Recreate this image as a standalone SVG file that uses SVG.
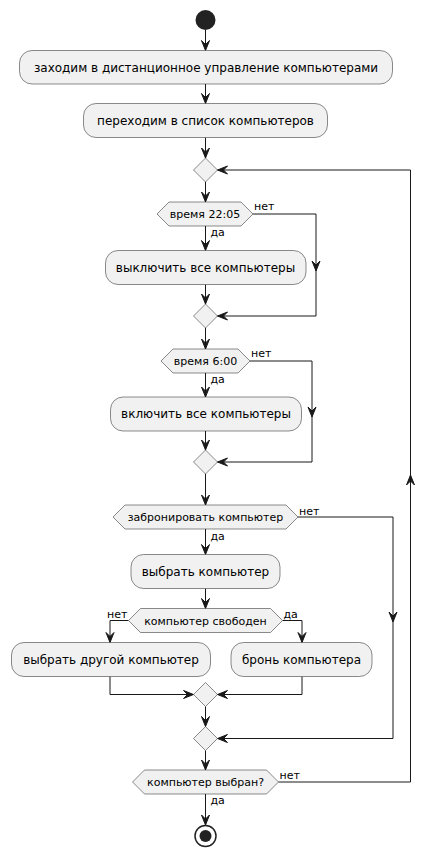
<svg xmlns="http://www.w3.org/2000/svg" xmlns:xlink="http://www.w3.org/1999/xlink" width="435" height="857" viewBox="0 0 435 857">
<style>
.box{fill:#F1F1F1;stroke:#181818;stroke-width:0.5}
.t{font-family:"DejaVu Sans",sans-serif;font-size:12px;fill:#000;text-anchor:middle}
.s{font-family:"DejaVu Sans",sans-serif;font-size:11px;fill:#000;text-anchor:middle}
.l{font-family:"DejaVu Sans",sans-serif;font-size:11px;fill:#000}
.c{fill:none;stroke:#181818;stroke-width:1}
.ah{fill:#181818;stroke:#181818;stroke-width:1}
</style>
<defs>
<path id="ah" class="ah" d="M-4,-10 L0,0 L4,-10 L0,-6 Z"/>
</defs>
<rect width="435" height="857" fill="#FFFFFF"/>
<g id="connectors">
<path class="c" d="M205.5,30 V50.5 M205.5,84 V103.5 M205.5,137.5 V158 M205.5,182 V202 M205.5,226 V250.5"/>
<path class="c" d="M253,214 H316 V316 H217.5"/>
<path class="c" d="M205.5,284.5 V304 M205.5,328 V349 M205.5,373 V397"/>
<path class="c" d="M250,361 H312 V462 H217.5"/>
<path class="c" d="M205.5,431 V450 M205.5,474 V505 M205.5,529 V554.5 M205.5,588.5 V608.5"/>
<path class="c" d="M298,517 H393 V738.5 H217.5"/>
<path class="c" d="M128.5,620.5 H110 V642.5 M282.5,620.5 H302 V642.5"/>
<path class="c" d="M110,676.5 V694.5 H193.5 M302,676.5 V694.5 H217.5"/>
<path class="c" d="M205.5,706.5 V726.5 M205.5,750.5 V770 M205.5,794 V825"/>
<path class="c" d="M278.5,782 H410.5 V170 H217.5"/>
<use xlink:href="#ah" transform="translate(205.5,50.5)"/>
<use xlink:href="#ah" transform="translate(205.5,103.5)"/>
<use xlink:href="#ah" transform="translate(205.5,158)"/>
<use xlink:href="#ah" transform="translate(205.5,202)"/>
<use xlink:href="#ah" transform="translate(205.5,250.5)"/>
<use xlink:href="#ah" transform="translate(316,271)"/>
<use xlink:href="#ah" transform="translate(217.5,316) rotate(90)"/>
<use xlink:href="#ah" transform="translate(205.5,304)"/>
<use xlink:href="#ah" transform="translate(205.5,349)"/>
<use xlink:href="#ah" transform="translate(205.5,397)"/>
<use xlink:href="#ah" transform="translate(312,417)"/>
<use xlink:href="#ah" transform="translate(217.5,462) rotate(90)"/>
<use xlink:href="#ah" transform="translate(205.5,450)"/>
<use xlink:href="#ah" transform="translate(205.5,505)"/>
<use xlink:href="#ah" transform="translate(205.5,554.5)"/>
<use xlink:href="#ah" transform="translate(205.5,608.5)"/>
<use xlink:href="#ah" transform="translate(393,622)"/>
<use xlink:href="#ah" transform="translate(217.5,738.5) rotate(90)"/>
<use xlink:href="#ah" transform="translate(110,642.5)"/>
<use xlink:href="#ah" transform="translate(302,642.5)"/>
<use xlink:href="#ah" transform="translate(193.5,694.5) rotate(-90)"/>
<use xlink:href="#ah" transform="translate(217.5,694.5) rotate(90)"/>
<use xlink:href="#ah" transform="translate(205.5,726.5)"/>
<use xlink:href="#ah" transform="translate(205.5,770)"/>
<use xlink:href="#ah" transform="translate(205.5,825)"/>
<use xlink:href="#ah" transform="translate(410.5,475) rotate(180)"/>
<use xlink:href="#ah" transform="translate(217.5,170) rotate(90)"/>
<text class="l" x="254" y="210">нет</text>
<text class="l" x="210.5" y="236">да</text>
<text class="l" x="251" y="357">нет</text>
<text class="l" x="210.5" y="383">да</text>
<text class="l" x="299" y="515">нет</text>
<text class="l" x="210.5" y="540">да</text>
<text class="l" x="107" y="618">нет</text>
<text class="l" x="283.5" y="618">да</text>
<text class="l" x="279.5" y="779">нет</text>
<text class="l" x="210.5" y="804">да</text>
</g>
<g id="start"><circle cx="205.5" cy="20" r="10" fill="#222222"/></g>
<g id="n1"><rect class="box" x="19.5" y="50.5" width="373" height="33.5" rx="12.5"/><text class="t" x="206" y="71.5">заходим в дистанционное управление компьютерами</text></g>
<g id="n2"><rect class="box" x="83.5" y="103.5" width="244" height="34" rx="12.5"/><text class="t" x="205.5" y="124.5">переходим в список компьютеров</text></g>
<g id="m1"><polygon class="box" points="205.5,158 217.5,170 205.5,182 193.5,170"/></g>
<g id="d1"><polygon class="box" points="157,214 169,202 241,202 253,214 241,226 169,226"/><text class="s" x="205" y="218">время 22:05</text></g>
<g id="n3"><rect class="box" x="105.5" y="250.5" width="200.5" height="34" rx="12.5"/><text class="t" x="205.5" y="271.5">выключить все компьютеры</text></g>
<g id="m2"><polygon class="box" points="205.5,304 217.5,316 205.5,328 193.5,316"/></g>
<g id="d2"><polygon class="box" points="161,361 173,349 238,349 250,361 238,373 173,373"/><text class="s" x="205.5" y="365">время 6:00</text></g>
<g id="n4"><rect class="box" x="110.5" y="397" width="191" height="34" rx="12.5"/><text class="t" x="206" y="418">включить все компьютеры</text></g>
<g id="m3"><polygon class="box" points="205.5,450 217.5,462 205.5,474 193.5,462"/></g>
<g id="d3"><polygon class="box" points="113,517 125,505 286,505 298,517 286,529 125,529"/><text class="s" x="205.5" y="521">забронировать компьютер</text></g>
<g id="n5"><rect class="box" x="131" y="554.5" width="149" height="34" rx="12.5"/><text class="t" x="205.5" y="575.5">выбрать компьютер</text></g>
<g id="d4"><polygon class="box" points="128.5,620.5 140.5,608.5 270.5,608.5 282.5,620.5 270.5,632.5 140.5,632.5"/><text class="s" x="205.5" y="624.5">компьютер свободен</text></g>
<g id="n6"><rect class="box" x="11.5" y="642.5" width="199" height="34" rx="12.5"/><text class="t" x="111" y="663.5">выбрать другой компьютер</text></g>
<g id="n7"><rect class="box" x="231" y="642.5" width="141" height="34" rx="12.5"/><text class="t" x="301.5" y="663.5">бронь компьютера</text></g>
<g id="m4"><polygon class="box" points="205.5,682.5 217.5,694.5 205.5,706.5 193.5,694.5"/></g>
<g id="m5"><polygon class="box" points="205.5,726.5 217.5,738.5 205.5,750.5 193.5,738.5"/></g>
<g id="d5"><polygon class="box" points="132.5,782 144.5,770 266.5,770 278.5,782 266.5,794 144.5,794"/><text class="s" x="205.5" y="786">компьютер выбран?</text></g>
<g id="end"><circle cx="205.5" cy="836" r="10.5" fill="#FFFFFF" stroke="#222222" stroke-width="1.5"/><circle cx="205.5" cy="836" r="6" fill="#222222"/></g>
</svg>
